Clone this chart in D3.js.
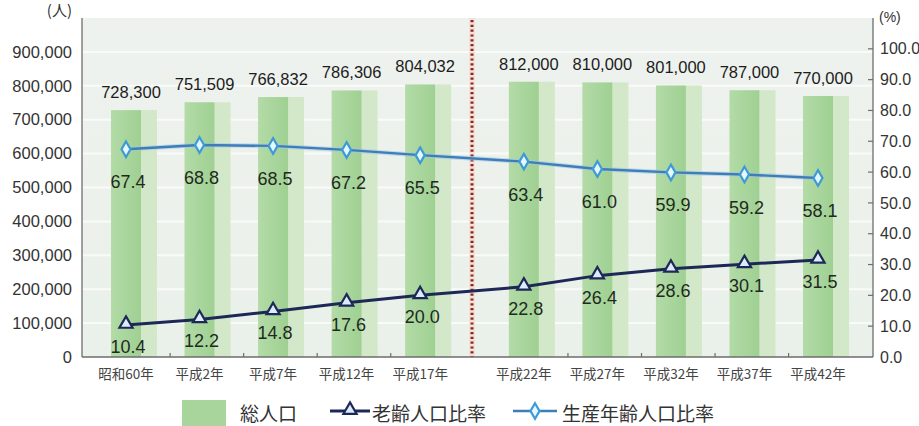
<!DOCTYPE html>
<html>
<head>
<meta charset="utf-8">
<script src="https://cdn.jsdelivr.net/npm/d3@7"></script>
<style>
  html, body { margin: 0; padding: 0; background: #ffffff; }
  svg { display: block; }
  text { font-family: "Liberation Sans", Arial, sans-serif; }
  .cjk { font-family: "Noto Sans CJK JP", sans-serif; }
</style>
</head>
<body>
<svg id="chart" width="919" height="426"></svg>
<script>
// 年次
const categories = ["昭和60年", "平成2年", "平成7年", "平成12年", "平成17年",
                    "平成22年", "平成27年", "平成32年", "平成37年", "平成42年"];
// 総人口（人）
const totalPop = [728300, 751509, 766832, 786306, 804032,
                  812000, 810000, 801000, 787000, 770000];
// 老齢人口比率（%）
const elderlyRatio = [10.4, 12.2, 14.8, 17.6, 20.0, 22.8, 26.4, 28.6, 30.1, 31.5];
// 生産年齢人口比率（%）
const workingRatio = [67.4, 68.8, 68.5, 67.2, 65.5, 63.4, 61.0, 59.9, 59.2, 58.1];
// 軸目盛
const popTicks = [0, 100000, 200000, 300000, 400000, 500000, 600000, 700000, 800000, 900000];
const pctTicks = [0, 10, 20, 30, 40, 50, 60, 70, 80, 90, 100];
// 実績と推計の境目（平成17年の後）
const lastActualIndex = 4;

const svg = d3.select("#chart");
const plot = { left: 82, right: 873, top: 18, bottom: 357 };

// 推計期間の前に少し間隔を空ける
const projGap = 0.41;
const slot = i => i + (i > lastActualIndex ? projGap : 0);
const x = d3.scaleLinear().domain([0, slot(categories.length - 1)]).range([126, 818]);
const yPop = d3.scaleLinear().domain([0, 1000000]).range([plot.bottom, plot.top]);
const yPct = d3.scaleLinear().domain([0, 110]).range([plot.bottom, plot.top]);

const defs = svg.append("defs");
const gFront = defs.append("linearGradient").attr("id", "barFront").attr("x1", 0).attr("x2", 1);
gFront.append("stop").attr("offset", 0).attr("stop-color", "#b3dba7");
gFront.append("stop").attr("offset", 1).attr("stop-color", "#9fd092");
const gBg = defs.append("linearGradient").attr("id", "plotBg").attr("x1", 0).attr("x2", 0).attr("y1", 0).attr("y2", 1);
gBg.append("stop").attr("offset", 0).attr("stop-color", "#eef2ee");
gBg.append("stop").attr("offset", 1).attr("stop-color", "#eaf0ea");

// 描画領域の背景
svg.append("rect")
  .attr("x", plot.left).attr("y", plot.top)
  .attr("width", plot.right - plot.left).attr("height", plot.bottom - plot.top)
  .attr("fill", "url(#plotBg)");

// 横の目盛線
svg.append("g").selectAll("line").data(popTicks.slice(1))
  .join("line")
  .attr("x1", plot.left).attr("x2", plot.right)
  .attr("y1", d => yPop(d)).attr("y2", d => yPop(d))
  .attr("stroke", "#f9fbf9").attr("stroke-width", 2);

// 総人口の棒（前面と側面）
const frontW = 30, sideW = 16;
const bars = svg.append("g");
bars.selectAll("rect.side").data(totalPop)
  .join("rect").attr("class", "side")
  .attr("x", (d, i) => x(slot(i)) + frontW / 2)
  .attr("y", d => yPop(d))
  .attr("width", sideW)
  .attr("height", d => plot.bottom - yPop(d))
  .attr("fill", "#d2e8c8");
bars.selectAll("rect.front").data(totalPop)
  .join("rect").attr("class", "front")
  .attr("x", (d, i) => x(slot(i)) - frontW / 2)
  .attr("y", d => yPop(d))
  .attr("width", frontW)
  .attr("height", d => plot.bottom - yPop(d))
  .attr("fill", "url(#barFront)");

// 実績／推計の区切り線
const divX = x((slot(lastActualIndex) + slot(lastActualIndex + 1)) / 2);
svg.append("rect")
  .attr("x", divX - 3).attr("y", plot.top)
  .attr("width", 6).attr("height", plot.bottom - plot.top)
  .attr("fill", "#f7dcd4").attr("opacity", 0.8);
svg.append("line")
  .attr("x1", divX).attr("x2", divX)
  .attr("y1", plot.top + 2).attr("y2", plot.bottom)
  .attr("stroke", "#8a2a1e").attr("stroke-width", 3)
  .attr("stroke-dasharray", "2.2 2.6");

// 軸
const axisColor = "#6d6d6d";
svg.append("line").attr("x1", plot.left).attr("x2", plot.left)
  .attr("y1", plot.top).attr("y2", plot.bottom)
  .attr("stroke", axisColor).attr("stroke-width", 1.3);
svg.append("line").attr("x1", plot.right).attr("x2", plot.right)
  .attr("y1", plot.top).attr("y2", plot.bottom)
  .attr("stroke", axisColor).attr("stroke-width", 1.3);
svg.append("line").attr("x1", plot.left).attr("x2", plot.right)
  .attr("y1", plot.bottom).attr("y2", plot.bottom)
  .attr("stroke", axisColor).attr("stroke-width", 1.3);

// 左軸（人）
const leftAxis = d3.axisLeft(yPop).tickValues(popTicks).tickSize(0).tickPadding(10)
  .tickFormat(d3.format(","));
const gl = svg.append("g").attr("transform", `translate(${plot.left},0)`).call(leftAxis);
gl.select(".domain").remove();
gl.selectAll("text").attr("font-size", 16.5).attr("fill", "#333")
  .attr("font-family", "'Liberation Sans', Arial, sans-serif");

// 右軸（%）
const rightAxis = d3.axisRight(yPct).tickValues(pctTicks).tickSize(0).tickPadding(7)
  .tickFormat(d3.format(".1f"));
const gr = svg.append("g").attr("transform", `translate(${plot.right},0)`).call(rightAxis);
gr.select(".domain").remove();
gr.selectAll("text").attr("font-size", 16).attr("fill", "#333")
  .attr("font-family", "'Liberation Sans', Arial, sans-serif");
// 右軸の内向き目盛
svg.append("g").selectAll("line").data(pctTicks.slice(1))
  .join("line")
  .attr("x1", plot.right - 5).attr("x2", plot.right)
  .attr("y1", d => yPct(d)).attr("y2", d => yPct(d))
  .attr("stroke", axisColor).attr("stroke-width", 1.2);

// 単位
svg.append("text").attr("class", "cjk").attr("x", 72).attr("y", 16)
  .attr("text-anchor", "end").attr("font-size", 15).attr("fill", "#333").text("(人)");
svg.append("text").attr("x", 879).attr("y", 22)
  .attr("font-size", 14).attr("fill", "#333").text("(%)");

// 横軸の目盛と年次ラベル
const tickIdx = d3.range(categories.length - 1).filter(i => i !== lastActualIndex);
svg.append("g").selectAll("line").data(tickIdx)
  .join("line")
  .attr("x1", i => x(slot(i) + 0.6)).attr("x2", i => x(slot(i) + 0.6))
  .attr("y1", plot.bottom - 4).attr("y2", plot.bottom)
  .attr("stroke", axisColor).attr("stroke-width", 1.2);
svg.append("g").selectAll("text").data(categories)
  .join("text").attr("class", "cjk")
  .attr("x", (d, i) => x(slot(i)))
  .attr("y", 379)
  .attr("text-anchor", "middle")
  .attr("font-size", 13.5).attr("fill", "#444")
  .text(d => d);

// 生産年齢人口比率の線
const workingLine = d3.line().x((d, i) => x(slot(i))).y(d => yPct(d));
svg.append("path").datum(workingRatio)
  .attr("d", workingLine).attr("fill", "none")
  .attr("stroke", "#9fc8e6").attr("stroke-width", 4.5).attr("opacity", 0.6);
svg.append("path").datum(workingRatio)
  .attr("d", workingLine).attr("fill", "none")
  .attr("stroke", "#3f7db8").attr("stroke-width", 2.4);

// 老齢人口比率の線
const elderlyLine = d3.line().x((d, i) => x(slot(i))).y(d => yPct(d));
svg.append("path").datum(elderlyRatio)
  .attr("d", elderlyLine).attr("fill", "none")
  .attr("stroke", "#1d2857").attr("stroke-width", 3);

// マーカー
const diamond = d3.symbol().type(d3.symbolDiamond).size(70);
const triangle = d3.symbol().type(d3.symbolTriangle).size(75);
svg.append("g").selectAll("path").data(workingRatio)
  .join("path")
  .attr("transform", (d, i) => `translate(${x(slot(i))},${yPct(d)})`)
  .attr("d", diamond)
  .attr("fill", "#e6f8ff").attr("stroke", "#3e9ad6").attr("stroke-width", 2.2);
svg.append("g").selectAll("path").data(elderlyRatio)
  .join("path")
  .attr("transform", (d, i) => `translate(${x(slot(i))},${yPct(d) - 1})`)
  .attr("d", triangle)
  .attr("fill", "#dcebff").attr("stroke", "#1d2857").attr("stroke-width", 2.2);

// 数値ラベル
svg.append("g").selectAll("text").data(totalPop)
  .join("text")
  .attr("x", (d, i) => x(slot(i)) + 5)
  .attr("y", d => yPop(d) - 12)
  .attr("text-anchor", "middle")
  .attr("font-size", 16.5).attr("fill", "#1c1c1c")
  .text(d => d3.format(",")(d));
svg.append("g").selectAll("text").data(workingRatio)
  .join("text")
  .attr("x", (d, i) => x(slot(i)) + 2)
  .attr("y", d => yPct(d) + 39)
  .attr("text-anchor", "middle")
  .attr("font-size", 18).attr("fill", "#1f2a1f")
  .text(d => d.toFixed(1));
svg.append("g").selectAll("text").data(elderlyRatio)
  .join("text")
  .attr("x", (d, i) => x(slot(i)) + 2)
  .attr("y", d => yPct(d) + 28)
  .attr("text-anchor", "middle")
  .attr("font-size", 18).attr("fill", "#1f2a1f")
  .text(d => d.toFixed(1));

// 凡例
const legend = svg.append("g");
legend.append("rect").attr("x", 182).attr("y", 400).attr("width", 44).attr("height", 30)
  .attr("fill", "#a7d59b");
legend.append("text").attr("class", "cjk").attr("x", 240).attr("y", 421)
  .attr("font-size", 19).attr("fill", "#333").text("総人口");
legend.append("line").attr("x1", 330).attr("x2", 370).attr("y1", 411).attr("y2", 411)
  .attr("stroke", "#1d2857").attr("stroke-width", 3);
legend.append("path").attr("transform", "translate(350,410)").attr("d", triangle)
  .attr("fill", "#dcebff").attr("stroke", "#1d2857").attr("stroke-width", 2.2);
legend.append("text").attr("class", "cjk").attr("x", 372).attr("y", 421)
  .attr("font-size", 19).attr("fill", "#333").text("老齢人口比率");
legend.append("line").attr("x1", 513).attr("x2", 557).attr("y1", 411).attr("y2", 411)
  .attr("stroke", "#3f7db8").attr("stroke-width", 2.4);
legend.append("path").attr("transform", "translate(535,411)").attr("d", diamond)
  .attr("fill", "#e6f8ff").attr("stroke", "#3e9ad6").attr("stroke-width", 2.2);
legend.append("text").attr("class", "cjk").attr("x", 562).attr("y", 421)
  .attr("font-size", 19).attr("fill", "#333").text("生産年齢人口比率");
</script>
</body>
</html>
